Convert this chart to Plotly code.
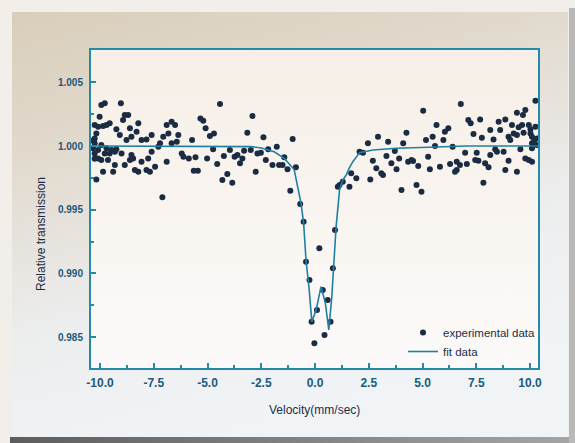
import base64
import plotly.graph_objects as go

# ---- data ----
exp_velocity = [
    -10.33, -10.33, -10.25,
    -9.94, -9.78, -9.03, -10.02, -8.85, -8.69, -8.93, -10.25, -10.09, -9.86, -9.70, -9.55, -8.22, -9.24, -8.61,
    -6.90, -6.67, -6.51, -6.82, -6.36, -10.17, -9.08, -8.54, -8.30, -7.60, -8.77, -8.07, -7.84, -7.06, -10.25,
    -6.43, -6.67, -7.21, -10.25, -9.94, -9.70, -9.47, -9.24, -10.09, -7.29, -10.25, -9.78, -9.55, -9.31, -9.00,
    -8.54, -7.60, -6.20, -6.12, -10.09, -9.94, -9.63, -8.61, -8.46, -8.07, -7.76, -6.90, -9.31, -8.85, -8.38,
    -8.22, -7.84, -7.44, -9.86, -9.39, -7.68, -10.17, -7.10,
    -4.42, -5.33, -5.20, -5.09, -2.91, -4.70, -4.89, -3.15, -5.72, -2.40, -1.04, -1.78, -2.18, -4.74, -3.96,
    -3.30, -2.99, -5.87, -5.56, -5.02, -4.24, -3.74, -3.61, -3.38, -2.68, -2.52, -2.29, -1.98, -1.67, -1.51,
    -1.43, -1.28, -0.89, -4.55, -3.49, -5.64, -5.45, -4.08, -2.76, -4.31, -3.85, -1.15, -0.69,
    -0.53, -0.42, -0.26, -0.16, -0.03, 0.09, 0.20, 0.36, 0.59, 0.72, 0.44, 0.83, 0.93, 1.06, 1.14, 1.29, 1.60,
    1.68, 1.92, 2.07, 2.23, 2.57, 2.69, 2.46, 2.93, 2.85, 3.08, 3.16, 3.32, 3.40, 3.55, 3.71, 3.79, 3.91, 4.02,
    4.10, 4.25, 4.33, 4.49, 4.56, 4.72, 4.80, 4.95, 5.03, 5.16, 5.26, 5.34, 5.47, 5.65, 5.58, 5.81, 5.97, 6.04,
    6.78, 10.25, 9.39, 9.67, 9.78, 7.13, 7.24, 7.68, 8.54, 8.85, 6.20, 9.16, 9.47, 9.63, 9.94, 10.02, 10.25,
    8.15, 8.61, 7.37, 7.76, 8.30, 9.00, 9.08, 9.24, 9.39, 9.70, 10.02, 10.09, 10.20, 10.30, 10.09, 10.33,
    6.40, 8.38, 8.46, 8.77, 9.55, 10.09, 6.98, 7.52, 8.15, 9.00, 9.78, 9.94, 10.09, 6.28, 6.59, 6.74, 7.06,
    7.45, 7.60, 7.91, 8.07, 6.59, 6.51, 8.85, 9.39, 7.83,
]
exp_transmission = [
    1.00044, 0.99982, 0.99900,
    1.00322, 1.00335, 1.00335, 1.00230, 1.00243, 1.00243, 1.00204, 1.00165, 1.00152, 1.00157, 1.00165, 1.00178, 1.00178, 1.00131, 1.00139,
    1.00165, 1.00191, 1.00165, 1.00099, 1.00086, 1.00099, 1.00086, 1.00073, 1.00112, 1.00086, 1.00047, 1.00047, 1.00052, 1.00073, 1.00060,
    1.00034, 1.00021, 1.00021, 1.00021, 1.00008, 0.99982, 0.99969, 0.99974, 0.99969, 0.99995, 0.99942, 0.99942, 0.99942, 0.99955, 0.99942,
    0.99929, 0.99955, 0.99942, 0.99916, 0.99903, 0.99890, 0.99890, 0.99890, 0.99903, 0.99877, 0.99903, 0.99877, 0.99851, 0.99851, 0.99812,
    0.99798, 0.99812, 0.99838, 0.99798, 0.99798, 0.99798, 0.99738, 0.99597,
    1.00330, 1.00217, 1.00199, 1.00139, 1.00236, 1.00099, 1.00079, 1.00105, 1.00047, 1.00068, 1.00055, 0.99995, 0.99974, 0.99974, 0.99969,
    0.99963, 0.99969, 0.99903, 0.99911, 0.99903, 0.99922, 0.99916, 0.99929, 0.99903, 0.99942, 0.99948, 0.99890, 0.99851, 0.99851, 0.99851,
    0.99911, 0.99817, 0.99833, 0.99859, 0.99864, 0.99806, 0.99806, 0.99780, 0.99798, 0.99733, 0.99712, 0.99649, 0.99545,
    0.99406, 0.99092, 0.98948, 0.98621, 0.98451, 0.98713, 0.99197, 0.98870, 0.98791, 0.98621, 0.98516, 0.99040, 0.99341, 0.99680, 0.99694, 0.99720, 0.99681,
    0.99786, 0.99746, 0.99955, 0.99948, 0.99738, 0.99885, 1.00021, 1.00073, 0.99825, 0.99786, 0.99772, 0.99922, 1.00034, 0.99864, 0.99961, 0.99817, 0.99903, 0.99655,
    1.00021, 1.00105, 0.99877, 0.99890, 0.99882, 0.99694, 0.99843, 0.99641, 1.00277, 1.00047, 0.99916, 0.99817, 1.00073, 1.00165, 1.00000, 0.99838, 1.00047, 1.00112,
    1.00330, 1.00356, 1.00262, 1.00243, 1.00283, 1.00204, 1.00178, 1.00209, 1.00191, 1.00209, 1.00139, 1.00165, 1.00147, 1.00165, 1.00165, 1.00131, 1.00152,
    1.00126, 1.00126, 1.00094, 1.00065, 1.00052, 1.00073, 1.00047, 1.00099, 1.00086, 1.00105, 1.00099, 1.00073, 1.00047, 1.00008, 1.00021, 1.00060,
    0.99995, 0.99974, 0.99955, 0.99955, 0.99974, 0.99982, 0.99948, 0.99948, 0.99929, 0.99885, 0.99903, 0.99890, 0.99877, 0.99859, 0.99877, 0.99851, 0.99859,
    0.99890, 0.99885, 0.99864, 0.99833, 0.99812, 0.99798, 0.99812, 0.99798, 0.99712,
]

fit_velocity = [-10.42, -3.0, -2.5, -2.2, -1.9, -1.43, -1.15, -0.97, -0.81, -0.65, -0.53, -0.42, -0.27, -0.15,
                0.05, 0.28, 0.48, 0.64, 0.78, 0.87, 0.98, 1.14, 1.29, 1.45, 1.60, 1.76, 2.07, 2.69, 3.79, 5.3, 7.0, 10.37]
fit_transmission = [1.0, 0.99995, 0.99985, 0.99972, 0.99955, 0.99903, 0.99850, 0.99815, 0.99681, 0.99550, 0.99393,
                    0.99105, 0.98870, 0.98621, 0.98713, 0.98896, 0.98765, 0.98556, 0.98817, 0.99053, 0.99367, 0.99655,
                    0.99733, 0.99772, 0.99830, 0.99877, 0.99948, 0.99969, 0.99982, 0.99990, 1.0, 1.0]

x_tick_values = [-10.0, -7.5, -5.0, -2.5, 0.0, 2.5, 5.0, 7.5, 10.0]
x_tick_labels = ["-10.0", "-7.5", "-5.0", "-2.5", "0.0", "2.5", "5.0", "7.5", "10.0"]
x_minor_values = [-8.75, -6.25, -3.75, -1.25, 1.25, 3.75, 6.25, 8.75]
y_tick_values = [0.985, 0.990, 0.995, 1.000, 1.005]
y_tick_labels = ["0.985", "0.990", "0.995", "1.000", "1.005"]
y_minor_values = [0.9875, 0.9925, 0.9975, 1.0025]

# ---- layout geometry ----
W, H = 575, 443
ML, MR, MT, MB = 91, 37, 50, 75
PW, PH = W - ML - MR, H - MT - MB

AXIS = "#2589a8"
LABEL = "#1b5a7c"
DARK = "#1c2d48"
FONT = "Liberation Sans, Arial, sans-serif"

svg = f'''<svg xmlns="http://www.w3.org/2000/svg" width="{W}" height="{H}" viewBox="0 0 {W} {H}" preserveAspectRatio="none">
<defs>
<linearGradient id="g" x1="0" y1="0" x2="0.35" y2="1">
<stop offset="0" stop-color="#d9cebb"/>
<stop offset="0.3" stop-color="#e1d9cc"/>
<stop offset="0.68" stop-color="#eceded"/>
<stop offset="1" stop-color="#f1f4f7"/>
</linearGradient>
<linearGradient id="p" x1="0" y1="0" x2="0" y2="1">
<stop offset="0" stop-color="#f6efe7"/>
<stop offset="1" stop-color="#fcfaf9"/>
</linearGradient>
<linearGradient id="b" x1="0" y1="0" x2="1" y2="0">
<stop offset="0" stop-color="#5d5d5d"/><stop offset="1" stop-color="#a5a5a5"/>
</linearGradient>
</defs>
<rect width="{W}" height="{H}" fill="#f2efeb"/>
<rect x="12" y="12" width="556" height="425" fill="url(#g)"/>
<rect x="10" y="437" width="565" height="6" fill="url(#b)"/>
<rect x="569" y="8" width="6" height="435" fill="#b9b9b9"/>
<rect x="{ML}" y="{MT}" width="{PW}" height="{PH}" fill="url(#p)"/>
</svg>'''
bg_uri = "data:image/svg+xml;base64," + base64.b64encode(svg.encode()).decode()

fig = go.Figure()
fig.add_trace(go.Scatter(
    x=exp_velocity, y=exp_transmission, mode="markers", name="experimental data",
    marker=dict(color="#1b2c42", size=6),
))
fig.add_trace(go.Scatter(
    x=fit_velocity, y=fit_transmission, mode="lines", name="fit data",
    line=dict(color="#1f80a4", width=1.6),
))

fig.update_layout(
    width=W, height=H,
    margin=dict(l=ML, r=MR, t=MT, b=MB),
    paper_bgcolor="#efebe5",
    plot_bgcolor="#f9f4ef",
    font=dict(family=FONT, color=DARK),
    showlegend=True,
    legend=dict(x=(403 - ML) / PW, y=(368 - 318) / PH, xanchor="left", yanchor="top",
                bgcolor="rgba(0,0,0,0)", font=dict(size=11.5, color=DARK),
                tracegroupgap=0, itemwidth=30),
    images=[dict(source=bg_uri, xref="paper", yref="paper",
                 x=-ML / PW, y=1 + MT / PH, sizex=W / PW, sizey=H / PH,
                 xanchor="left", yanchor="top", sizing="stretch", layer="below")],
    annotations=[
        dict(text="Relative transmission", xref="paper", yref="paper",
             x=(41 - ML) / PW, y=(368 - 234) / PH, showarrow=False, textangle=-90,
             font=dict(size=12, color=DARK), xanchor="center", yanchor="middle"),
        dict(text="Velocity(mm/sec)", xref="paper", yref="paper",
             x=(314 - ML) / PW, y=(368 - 410) / PH, showarrow=False,
             font=dict(size=12, color=DARK), xanchor="center", yanchor="middle"),
    ],
)
fig.update_xaxes(
    range=[-10.42, 10.37], tickvals=x_tick_values, ticktext=x_tick_labels,
    ticks="inside", ticklen=5, tickwidth=1.5, tickcolor=AXIS,
    minor=dict(tickvals=x_minor_values, ticks="inside", ticklen=3, tickwidth=1.5, tickcolor=AXIS),
    showline=True, linecolor=AXIS, linewidth=2, mirror=True,
    showgrid=False, zeroline=False,
    tickfont=dict(size=12, color=LABEL, weight="bold"), ticklabelstandoff=3,
)
fig.update_yaxes(
    range=[0.98257, 1.00754], tickvals=y_tick_values, ticktext=y_tick_labels,
    ticks="inside", ticklen=5, tickwidth=1.5, tickcolor=AXIS,
    minor=dict(tickvals=y_minor_values, ticks="inside", ticklen=3, tickwidth=1.5, tickcolor=AXIS),
    showline=True, linecolor=AXIS, linewidth=2, mirror=True,
    showgrid=False, zeroline=False,
    tickfont=dict(size=10, color=LABEL, weight="bold"), ticklabelstandoff=4,
)

fig.write_html(
    "out.html",
    config={"displayModeBar": False},
    post_script="document.body.style.margin='0';document.body.style.overflow='hidden';",
)
